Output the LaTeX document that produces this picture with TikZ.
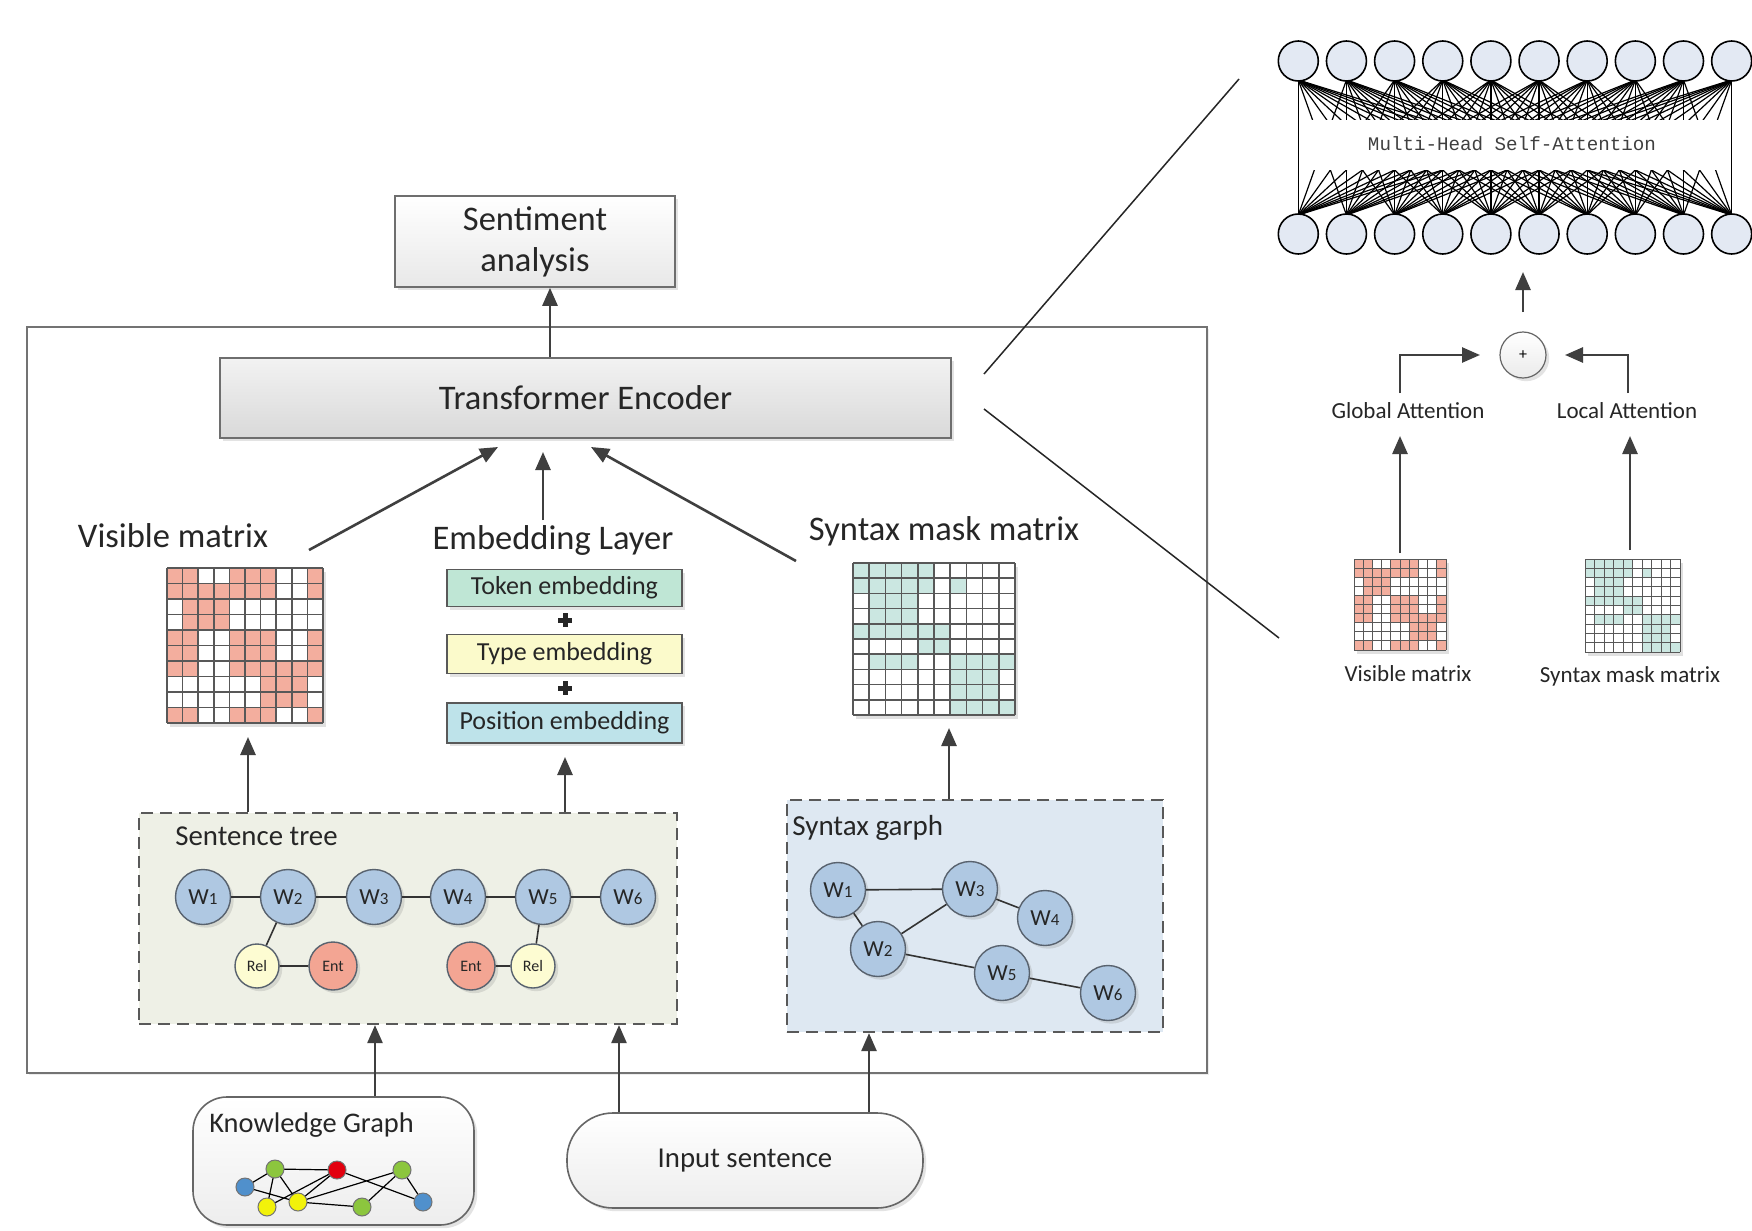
\documentclass[tikz,border=0pt]{standalone}
\usepackage{fontspec}
\setmainfont{Carlito}
\newfontfamily\attnfont{Liberation Mono}
\usetikzlibrary{arrows.meta,shadows,calc}
\definecolor{arrowgray}{HTML}{3F3F3F}
\definecolor{boxborder}{HTML}{6E6E6E}
\definecolor{tokgreen}{HTML}{BFE6D5}
\definecolor{typeyellow}{HTML}{FBFACB}
\definecolor{poscyan}{HTML}{BEE3EA}
\definecolor{treebg}{HTML}{EEF0E6}
\definecolor{graphbg}{HTML}{DEE8F2}
\definecolor{wblue}{HTML}{AFC8E2}
\definecolor{wborder}{HTML}{58626E}
\definecolor{relyellow}{HTML}{FDFCD2}
\definecolor{entred}{HTML}{F3A593}
\definecolor{visred}{HTML}{F3AE9E}
\definecolor{synteal}{HTML}{CBE7E1}
\definecolor{gridcol}{HTML}{585858}
\definecolor{neuron}{HTML}{E3E9F3}
\definecolor{kgblue}{HTML}{5090CC}
\definecolor{kggreen}{HTML}{8CC63E}
\definecolor{kgyellow}{HTML}{F2F20A}
\definecolor{kgred}{HTML}{E2000E}
\definecolor{txt}{HTML}{262626}

\newcommand\wl[1]{W{\fontsize{8.5}{8.5}\selectfont #1}}

% x0 y0 w h colour pattern gridwidth
\newcommand\drawmat[7]{%
  \pgfmathsetmacro\cw{#3/10}\pgfmathsetmacro\ch{#4/10}%
  \fill[black,opacity=0.12] ($(#1,#2)+(3,4)$) rectangle ++(#3,#4);
  \fill[white] (#1,#2) rectangle ++(#3,#4);
  \foreach \row [count=\r] in #6 {
    \foreach \v [count=\k] in \row {
      \ifnum\v=1 \fill[#5] ({#1+(\k-1)*\cw},{#2+(\r-1)*\ch}) rectangle ++(\cw,\ch);\fi
    }
  }
  \foreach \i in {0,...,10} {
    \draw[gridcol,line width=#7] ({#1+\i*\cw},#2) -- ++(0,#4);
    \draw[gridcol,line width=#7] (#1,{#2+\i*\ch}) -- ++(#3,0);
  }
}
\def\vispat{{1,1,0,0,1,1,1,0,0,1},{1,1,1,1,1,1,1,0,0,1},{0,1,1,1,0,0,0,0,0,0},{0,1,1,1,0,0,0,0,0,0},{1,1,0,0,1,1,1,0,0,1},{1,1,0,0,1,1,1,0,0,1},{1,1,0,0,1,1,1,1,1,1},{0,0,0,0,0,0,1,1,1,0},{0,0,0,0,0,0,1,1,1,0},{1,1,0,0,1,1,1,0,0,1}}
\def\synpat{{1,1,1,1,1,0,0,0,0,0},{1,1,1,1,1,0,1,0,0,0},{0,1,1,1,0,0,0,0,0,0},{0,1,1,1,0,0,0,0,0,0},{1,1,1,1,1,1,0,0,0,0},{0,0,0,0,1,1,0,0,0,0},{0,1,1,1,0,0,1,1,1,1},{0,0,0,0,0,0,1,1,1,0},{0,0,0,0,0,0,1,1,1,0},{0,0,0,0,0,0,1,1,1,1}}

\begin{document}
\begin{tikzpicture}[x=0.5pt,y=-0.5pt,
  arr/.style={draw=arrowgray, line width=1.3pt, -{Triangle[length=9pt,width=7.5pt]}},
  shad/.style={drop shadow={shadow xshift=1.6pt,shadow yshift=-1.6pt,opacity=0.22}},
  graybox/.style={draw=boxborder, line width=0.8pt, top color=white, bottom color=black!9, shad, inner sep=0pt, text=txt},
  bigfont/.style={font=\fontsize{17.25}{20.5}\selectfont},
  embbox/.style={draw=black!65, line width=0.8pt, minimum width=117.5pt, inner sep=0pt, font=\fontsize{13}{15}\selectfont, text=txt, shad},
  dashbox/.style={draw=black!65, line width=1.1pt, dash pattern=on 6pt off 3.5pt, inner sep=0pt},
  wnode/.style={circle, draw=wborder, fill=wblue, line width=0.7pt, minimum size=27.5pt, inner sep=0pt, font=\fontsize{11.5}{12}\selectfont, text=txt, shad},
  relnode/.style={circle, draw=wborder, fill=relyellow, line width=0.7pt, minimum size=22pt, inner sep=0pt, font=\fontsize{8}{8}\selectfont, text=txt, shad},
  entnode/.style={circle, draw=wborder, fill=entred, line width=0.7pt, minimum size=24pt, inner sep=0pt, font=\fontsize{8}{8}\selectfont, text=txt, shad},
  link/.style={draw=black!80, line width=0.8pt},
  kgn/.style={circle, draw=black!55, line width=0.5pt, minimum size=9pt, inner sep=0pt},
  neur/.style={circle, draw=black, line width=0.8pt, fill=neuron, minimum size=20pt, inner sep=0pt},
  lbl/.style={inner sep=0pt, text=txt}
]
\useasboundingbox (0,0) rectangle (1752,1231);
\clip (0,0) rectangle (1752,1231);
\fill[white] (0,0) rectangle (1752,1231);

% ---------- outer frame ----------
\node[draw=black!55, line width=0.8pt, fill=white, minimum width=590pt, minimum height=373pt, inner sep=0pt,
      drop shadow={shadow xshift=1pt,shadow yshift=-1pt,opacity=0.15}] (outer) at (617,700) {};

% ---------- sentiment & transformer ----------
\node[graybox, bigfont, minimum width=140pt, minimum height=45.5pt, align=center] (senti) at (535,241.5) {Sentiment\\analysis};
\node[graybox, bigfont, minimum width=365.5pt, minimum height=40pt, top color=black!5, bottom color=black!15] (trans) at (585.5,398) {Transformer Encoder};
\draw[arr] (trans.north -| 550,0) -- (senti.south -| 550,0);

% ---------- labels ----------
\node[lbl, bigfont] (vislbl) at (173,536) {Visible matrix};
\node[lbl, bigfont] (emblbl) at (553,540) {Embedding Layer};
\node[lbl, bigfont] (synlbl) at (944,531) {Syntax mask matrix};

% arrows into transformer
\coordinate (a1s) at (309,550); \coordinate (a1e) at (498,447);
\coordinate (a2s) at (543,520); \coordinate (a2e) at (543,452);
\coordinate (a3s) at (796,561); \coordinate (a3e) at (591,447);
\draw[arr] (a1s) -- (a1e);
\draw[arr] (a2s) -- (a2e);
\draw[arr] (a3s) -- (a3e);

% ---------- matrices ----------
\drawmat{167}{568}{156}{155}{visred}{\vispat}{0.8pt}
\drawmat{853}{563}{162}{152}{synteal}{\synpat}{0.8pt}
\coordinate (visbot) at (248,737);
\coordinate (synbot) at (949,728);

% ---------- embedding boxes ----------
\node[embbox, fill=tokgreen, minimum height=18.5pt] (tok) at (564.5,588) {Token embedding};
\node[embbox, fill=typeyellow, minimum height=19.5pt] (typ) at (564.5,654) {Type embedding};
\node[embbox, fill=poscyan, minimum height=20pt] (pos) at (564.5,723) {Position embedding};
\fill[black!85] (562.5,613) rectangle (567.5,627);
\fill[black!85] (558,617.5) rectangle (572,622.5);
\fill[black!85] (562.5,681) rectangle (567.5,695);
\fill[black!85] (558,685.5) rectangle (572,690.5);
\coordinate (posbot) at (565,757);

% ---------- sentence tree ----------
\node[dashbox, fill=treebg, minimum width=269pt, minimum height=105.5pt] (stree) at (408,918.5) {};
\node[lbl, anchor=west, font=\fontsize{14.4}{16}\selectfont] (streelbl) at (175,836) {Sentence tree};
\node[wnode] (st1) at (203,897) {\wl1};
\node[wnode] (st2) at (288,897) {\wl2};
\node[wnode] (st3) at (374,897) {\wl3};
\node[wnode] (st4) at (458,897) {\wl4};
\node[wnode] (st5) at (543,897) {\wl5};
\node[wnode] (st6) at (628,897) {\wl6};
\node[relnode] (rel1) at (257,966) {Rel};
\node[entnode] (ent1) at (333,966) {Ent};
\node[entnode] (ent2) at (471,966) {Ent};
\node[relnode] (rel2) at (533,966) {Rel};
\draw[link] (st1) -- (st2) (st2) -- (st3) (st3) -- (st4) (st4) -- (st5) (st5) -- (st6);
\draw[link] (st2) -- (rel1) (rel1) -- (ent1) (st5) -- (rel2) (rel2) -- (ent2);

\draw[arr] (stree.north -| visbot) -- (visbot);
\draw[arr] (stree.north -| posbot) -- (posbot);

% ---------- syntax graph ----------
\node[dashbox, fill=graphbg, minimum width=188pt, minimum height=116pt] (sgraph) at (975,916) {};
\node[lbl, anchor=west, font=\fontsize{14.5}{16}\selectfont] (sgraphlbl) at (792,828) {Syntax garph};
\node[wnode] (sg1) at (838,890) {\wl1};
\node[wnode] (sg2) at (878,949) {\wl2};
\node[wnode] (sg3) at (970,889) {\wl3};
\node[wnode] (sg4) at (1045,918) {\wl4};
\node[wnode] (sg5) at (1002,973) {\wl5};
\node[wnode] (sg6) at (1108,993) {\wl6};
\draw[link] (sg1) -- (sg3) (sg1) -- (sg2) (sg2) -- (sg3) (sg3) -- (sg4) (sg2) -- (sg5) (sg5) -- (sg6);
\draw[arr] (sgraph.north -| synbot) -- (synbot);

% ---------- knowledge graph ----------
\node[draw=black!60, line width=0.8pt, rounded corners=17pt, top color=white, bottom color=black!7, shad,
      minimum width=140.5pt, minimum height=64pt, inner sep=0pt] (kgbox) at (333.5,1161) {};
\node[lbl, anchor=west, font=\fontsize{14.2}{16}\selectfont] (kglbl) at (209,1125) {Knowledge Graph};
\coordinate (k1) at (245,1187);
\coordinate (k2) at (275,1169);
\coordinate (k3) at (267,1207);
\coordinate (k4) at (298,1202);
\coordinate (k5) at (337,1170);
\coordinate (k6) at (362,1207);
\coordinate (k7) at (402,1170);
\coordinate (k8) at (423,1202);
\draw[black, line width=0.6pt] (k1) -- (k2) (k1) -- (k4) (k2) -- (k5) (k2) -- (k3) (k2) -- (k4)
  (k3) -- (k5) (k4) -- (k5) (k4) -- (k7) (k4) -- (k6) (k5) -- (k8) (k7) -- (k8) (k7) -- (k6);
\foreach \n/\c in {k1/kgblue,k2/kggreen,k3/kgyellow,k4/kgyellow,k5/kgred,k6/kggreen,k7/kggreen,k8/kgblue}
  \node[kgn, fill=\c] (\n n) at (\n) {};

% ---------- input sentence ----------
\node[draw=black!60, line width=0.8pt, rounded corners=23pt, top color=white, bottom color=black!7, shad,
      minimum width=178pt, minimum height=47.5pt, inner sep=0pt, font=\fontsize{14.4}{16}\selectfont, text=txt] (inp) at (745,1160.5) {Input sentence};

\draw[arr] (kgbox.north -| 375,0) -- (stree.south -| 375,0);
\draw[arr] (inp.north -| 619,0) -- (stree.south -| 619,0);
\draw[arr] (inp.north -| 869,0) -- (sgraph.south -| 869,0);

% ---------- zoom lines ----------
\coordinate (z1) at (984,374); \coordinate (z2) at (1239,79);
\coordinate (z3) at (984,409); \coordinate (z4) at (1279,638);
\draw[black!85, line width=0.75pt] (z1) -- (z2);
\draw[black!85, line width=0.75pt] (z3) -- (z4);

% ---------- right panel: attention ----------
\foreach \i in {0,...,9} {
  \coordinate (t\i) at ({1298.3+48.15*\i},61);
  \coordinate (b\i) at ({1298.3+48.15*\i},234);
}
\foreach \i in {0,...,9} \foreach \j in {0,...,9}
  \draw[black, line width=0.6pt] ($(t\i)+(0,19)$) -- ($(b\j)+(0,-19)$);
\fill[white] (1300.3,120) rectangle (1730.4,170);
\node[lbl, text=black!75, font=\attnfont\fontsize{9.6}{11}\selectfont] (mhsa) at (1512,144) {Multi-Head Self-Attention};
\foreach \i in {0,...,9} {
  \node[neur] (tn\i) at (t\i) {};
  \node[neur] (bn\i) at (b\i) {};
}

\node[circle, draw=black!60, line width=0.6pt, top color=white, bottom color=black!8, shad, minimum size=23pt, inner sep=0pt,
      font=\fontsize{8}{8}\selectfont] (plus) at (1523,355) {+};
\coordinate (plusfrom) at (1523,312);
\coordinate (plusup) at (1523,272);
\draw[arr] (plusfrom) -- (plusup);

\node[lbl, font=\fontsize{11.5}{13}\selectfont] (glob) at (1408,411) {Global Attention};
\node[lbl, font=\fontsize{11.5}{13}\selectfont] (loc) at (1627,411) {Local Attention};
\coordinate (gs) at (1400,393); \coordinate (ge) at (1480,355);
\coordinate (ls) at (1628,393); \coordinate (le) at (1565,355);
\draw[arr] (gs) |- (ge);
\draw[arr] (ls) |- (le);

\drawmat{1354}{559}{92}{91}{visred}{\vispat}{0.5pt}
\drawmat{1585}{559}{95}{93}{synteal}{\synpat}{0.5pt}
\node[lbl, font=\fontsize{11.5}{13}\selectfont] (svis) at (1408,674) {Visible matrix};
\node[lbl, font=\fontsize{11.5}{13}\selectfont] (ssyn) at (1630,676) {Syntax mask matrix};
\coordinate (svtop) at (1400,553); \coordinate (svend) at (1400,436);
\coordinate (sstop) at (1630,550); \coordinate (ssend) at (1630,436);
\draw[arr] (svtop) -- (svend);
\draw[arr] (sstop) -- (ssend);
\end{tikzpicture}
\end{document}
